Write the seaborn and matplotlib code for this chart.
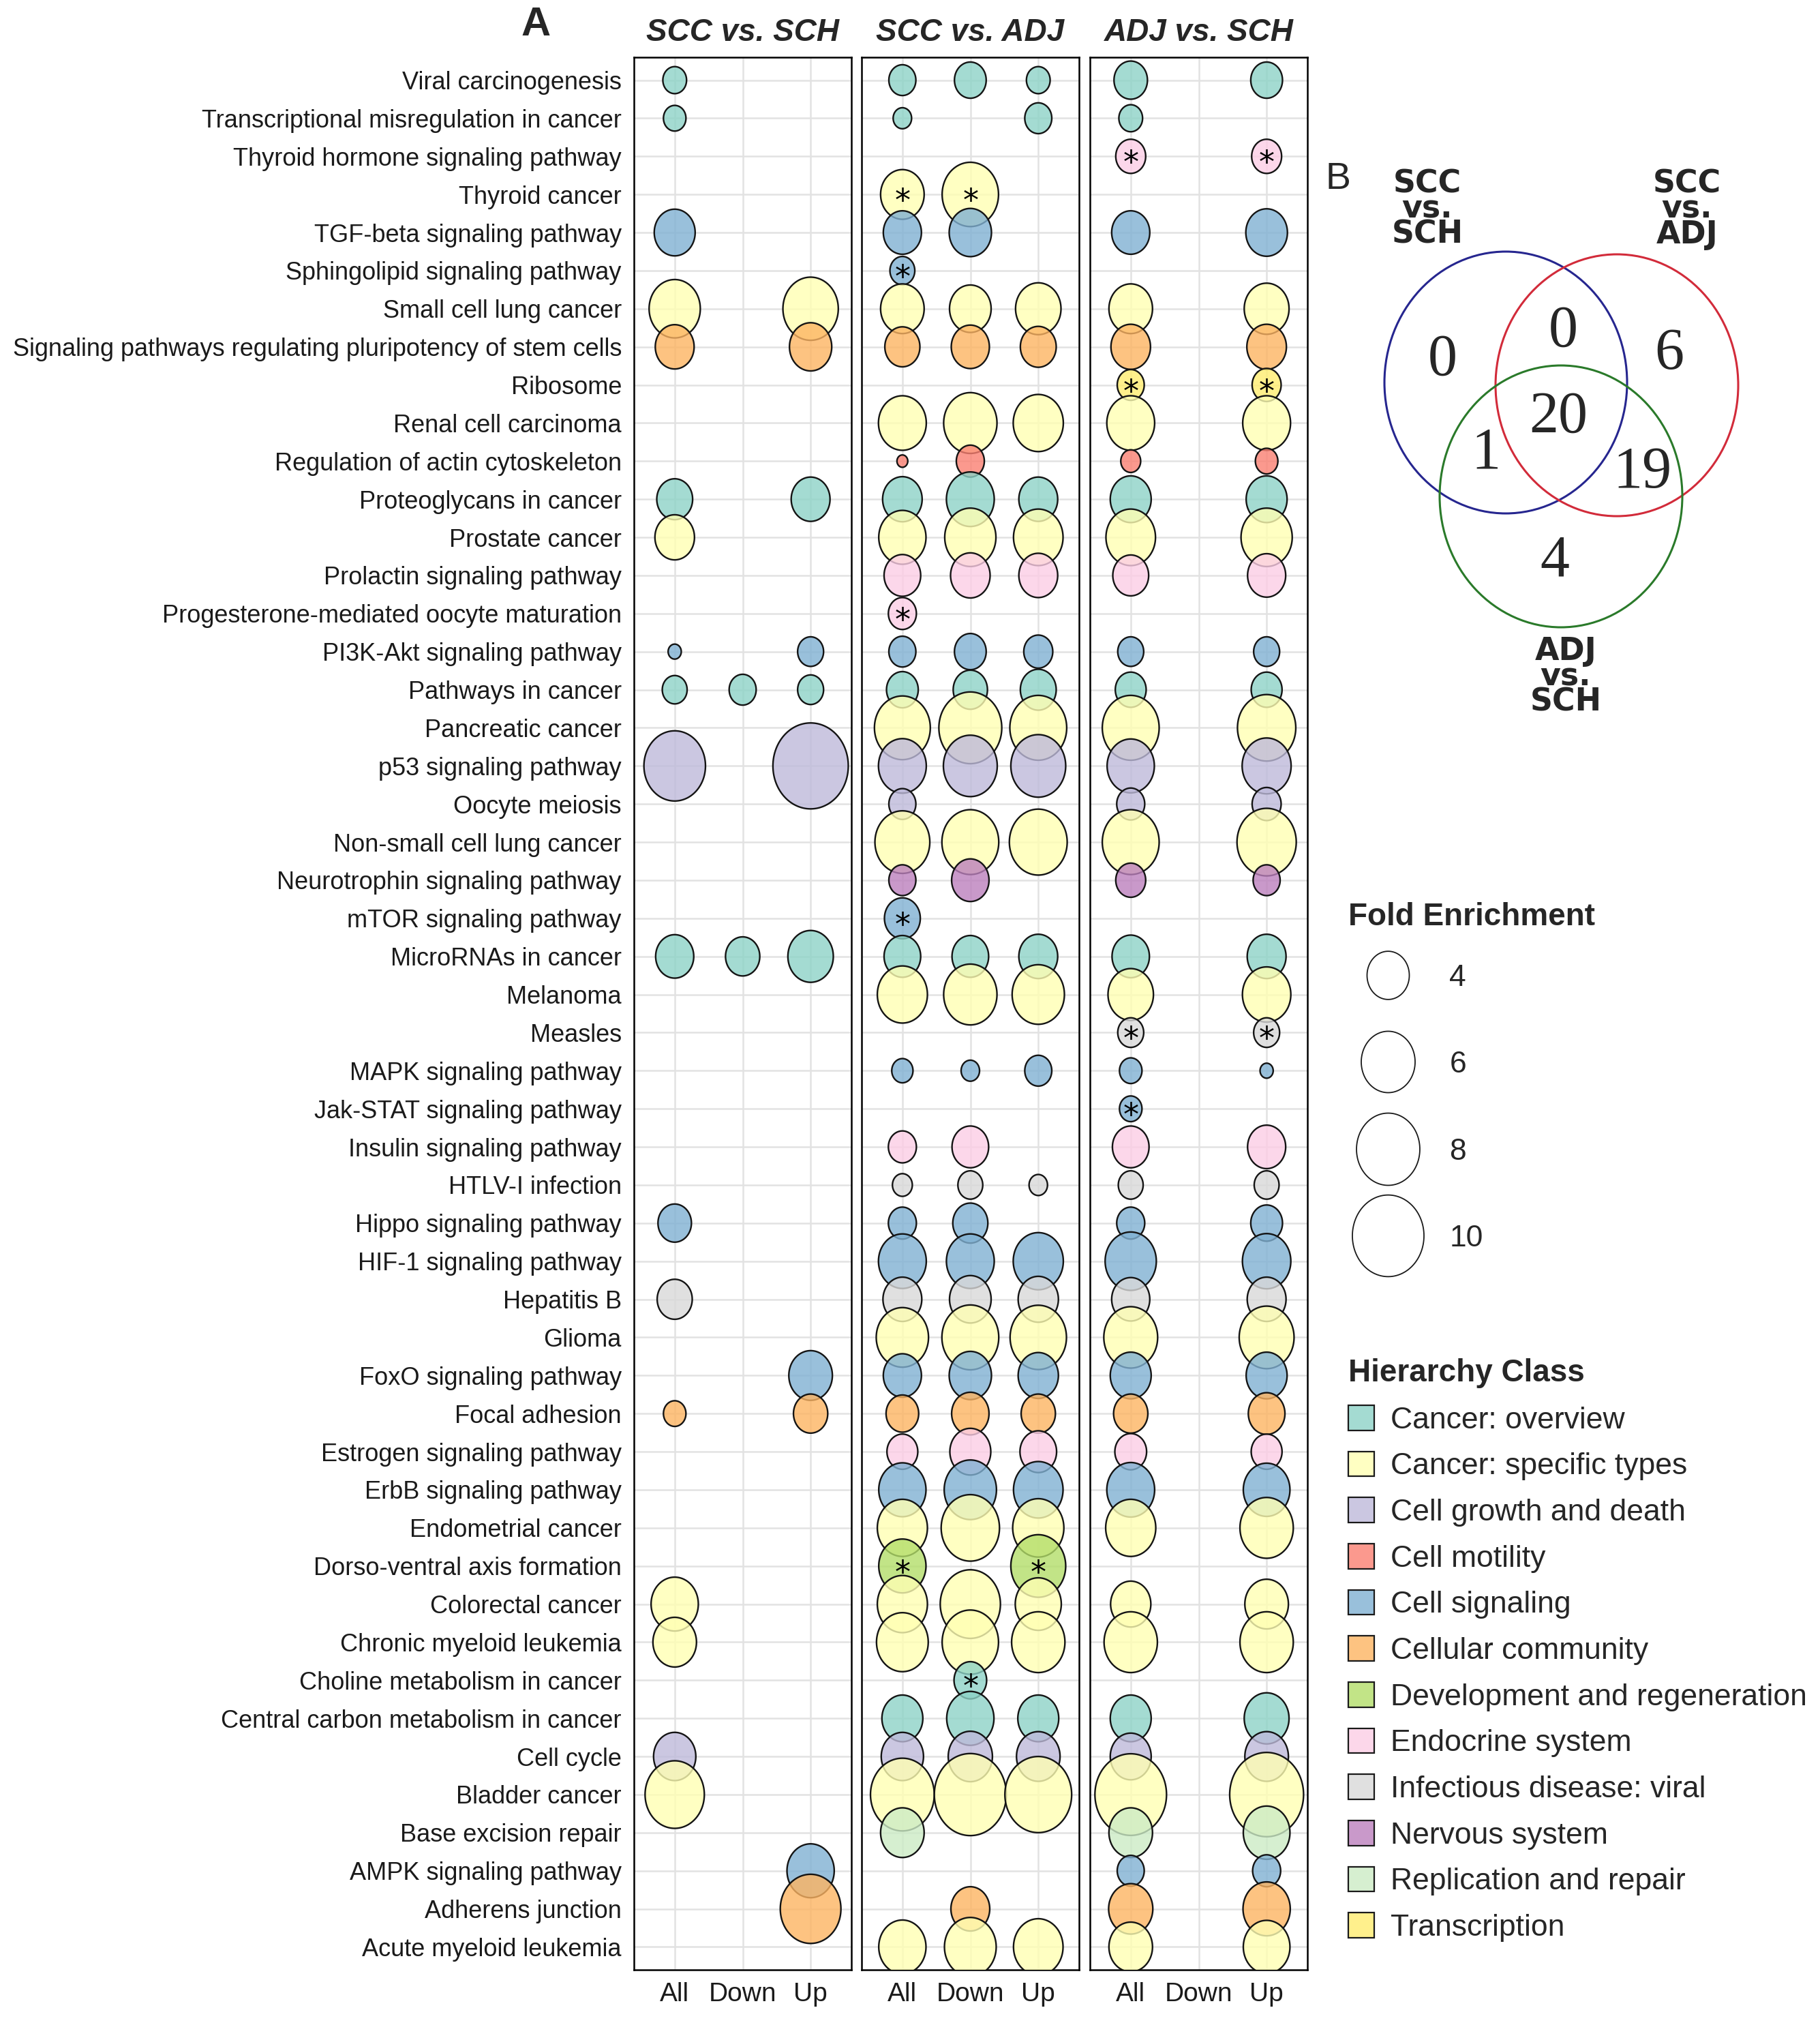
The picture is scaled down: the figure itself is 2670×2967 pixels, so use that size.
import numpy as np
import pandas as pd
import matplotlib
matplotlib.use("Agg")
import matplotlib.pyplot as plt
from matplotlib.path import Path
from matplotlib.patches import Ellipse, Patch
from matplotlib.lines import Line2D
from matplotlib.legend_handler import HandlerLine2D
from matplotlib.colors import to_rgba
import seaborn as sns

N = None

pathways = [
    "Viral carcinogenesis", "Transcriptional misregulation in cancer",
    "Thyroid hormone signaling pathway", "Thyroid cancer",
    "TGF-beta signaling pathway", "Sphingolipid signaling pathway",
    "Small cell lung cancer",
    "Signaling pathways regulating pluripotency of stem cells",
    "Ribosome", "Renal cell carcinoma",
    "Regulation of actin cytoskeleton", "Proteoglycans in cancer",
    "Prostate cancer", "Prolactin signaling pathway",
    "Progesterone-mediated oocyte maturation", "PI3K-Akt signaling pathway",
    "Pathways in cancer", "Pancreatic cancer",
    "p53 signaling pathway", "Oocyte meiosis",
    "Non-small cell lung cancer", "Neurotrophin signaling pathway",
    "mTOR signaling pathway", "MicroRNAs in cancer",
    "Melanoma", "Measles",
    "MAPK signaling pathway", "Jak-STAT signaling pathway",
    "Insulin signaling pathway", "HTLV-I infection",
    "Hippo signaling pathway", "HIF-1 signaling pathway",
    "Hepatitis B", "Glioma",
    "FoxO signaling pathway", "Focal adhesion",
    "Estrogen signaling pathway", "ErbB signaling pathway",
    "Endometrial cancer", "Dorso-ventral axis formation",
    "Colorectal cancer", "Chronic myeloid leukemia",
    "Choline metabolism in cancer", "Central carbon metabolism in cancer",
    "Cell cycle", "Bladder cancer",
    "Base excision repair", "AMPK signaling pathway",
    "Adherens junction", "Acute myeloid leukemia",
]

hier_class = [
    "Cancer: overview", "Cancer: overview", "Endocrine system", "Cancer: specific types",
    "Cell signaling", "Cell signaling", "Cancer: specific types", "Cellular community",
    "Transcription", "Cancer: specific types", "Cell motility", "Cancer: overview",
    "Cancer: specific types", "Endocrine system", "Endocrine system", "Cell signaling",
    "Cancer: overview", "Cancer: specific types", "Cell growth and death", "Cell growth and death",
    "Cancer: specific types", "Nervous system", "Cell signaling", "Cancer: overview",
    "Cancer: specific types", "Infectious disease: viral", "Cell signaling", "Cell signaling",
    "Endocrine system", "Infectious disease: viral", "Cell signaling", "Cell signaling",
    "Infectious disease: viral", "Cancer: specific types", "Cell signaling", "Cellular community",
    "Endocrine system", "Cell signaling", "Cancer: specific types", "Development and regeneration",
    "Cancer: specific types", "Cancer: specific types", "Cancer: overview", "Cancer: overview",
    "Cell growth and death", "Cancer: specific types", "Replication and repair", "Cell signaling",
    "Cellular community", "Cancer: specific types",
]

class_order = [
    "Cancer: overview", "Cancer: specific types", "Cell growth and death",
    "Cell motility", "Cell signaling", "Cellular community",
    "Development and regeneration", "Endocrine system",
    "Infectious disease: viral", "Nervous system",
    "Replication and repair", "Transcription",
]
class_colors = [
    "#8DD3C7", "#FFFFB3", "#BEBADA", "#FB8072", "#80B1D3", "#FDB462",
    "#B3DE69", "#FCCDE5", "#D9D9D9", "#BC80BD", "#CCEBC5", "#FFED6F",
]

directions = ["All", "Down", "Up"]
comparisons = ["SCC vs. SCH", "SCC vs. ADJ", "ADJ vs. SCH"]

# fold enrichment, one entry per pathway (None = not enriched)
scc_sch_all = [1.8, 1.7, N, N, 3.8, N, 5.5, 3.5, N, N,
               N, 3.1, 3.6, N, N, 1.1, 1.9, N, 7.6, N,
               N, N, N, 3.4, N, N, N, N, N, N,
               2.8, N, 3.0, N, N, 1.7, N, N, N, N,
               4.8, 4.2, N, N, 4.0, 7.1, N, N, N, N]
scc_sch_down = [N, N, N, N, N, N, N, N, N, N,
                N, N, N, N, N, N, 2.1, N, N, N,
                N, N, N, 2.9, N, N, N, N, N, N,
                N, N, N, N, N, N, N, N, N, N,
                N, N, N, N, N, N, N, N, N, N]
scc_sch_up = [N, N, N, N, N, N, 6.3, 4.0, N, N,
              N, 3.5, N, N, N, 2.0, 2.0, N, 11.0, N,
              N, N, N, 4.5, N, N, N, N, N, N,
              N, N, N, N, 4.2, 2.9, N, N, N, N,
              N, N, N, N, N, N, N, 4.8, 7.4, N]

scc_adj_all = [2.1, 1.4, N, 4.2, 3.4, 1.9, 4.2, 3.0, N, 4.9,
               1.0, 3.6, 4.8, 3.2, 2.2, 2.1, 2.6, 6.4, 4.9, 2.1,
               6.2, 2.1, 3.1, 3.2, 5.3, N, 1.6, N, 2.2, 1.5,
               2.2, 4.9, 3.5, 5.7, 3.4, 2.7, 2.5, 4.8, 5.3, 4.8,
               5.3, 5.6, N, 3.8, 4.0, 8.1, 4.2, N, N, 4.8]
scc_adj_down = [2.6, N, N, 6.5, 4.0, N, 3.9, 3.4, N, 5.9,
                2.2, 4.9, 5.5, 3.6, N, 2.6, 2.9, 7.9, 6.0, N,
                6.6, 3.3, N, 3.2, 5.9, N, 1.4, N, 3.2, 1.9,
                3.0, 4.9, 3.9, 6.6, 4.0, 3.3, 3.8, 5.7, 6.9, N,
                7.3, 6.5, 2.7, 4.8, 4.3, 10.1, N, N, 3.5, 5.6]
scc_adj_up = [1.8, 2.1, N, N, N, N, 4.5, 3.1, N, 5.3,
              N, 3.5, 5.2, 3.5, N, 2.3, 3.1, 6.6, 6.2, N,
              6.8, N, N, 3.5, 5.7, N, 2.1, N, N, 1.4,
              N, 5.3, 3.7, 6.5, 3.7, 2.9, 3.2, 5.2, 5.5, 6.2,
              4.6, 5.9, N, 3.8, 4.2, 8.8, N, N, N, 5.2]

adj_sch_all = [2.8, 1.8, 2.4, N, 3.4, N, 4.2, 3.6, 2.1, 4.9,
               1.5, 3.8, 5.2, 3.1, N, 2.0, 2.5, 6.6, 4.8, 2.2,
               6.6, 2.4, N, 3.3, 4.5, 2.0, 1.7, 1.7, 3.2, 1.9,
               2.2, 5.5, 3.4, 6.0, 3.8, 2.9, 2.6, 4.9, 5.3, N,
               3.7, 5.9, N, 3.8, 3.8, 10.0, 4.2, 2.1, 4.3, 4.2]
adj_sch_down = []
adj_sch_up = [2.6, N, 2.4, N, 3.9, N, 4.4, 3.6, 2.3, 4.9,
              1.7, 3.8, 5.5, 3.4, N, 2.0, 2.5, 6.9, 5.1, 2.3,
              7.1, 2.1, N, 3.5, 5.0, 2.0, 1.1, N, 3.4, 1.9,
              2.6, 5.0, 3.5, 6.2, 3.8, 3.2, 2.5, 4.7, 5.9, N,
              4.2, 5.9, N, 4.4, 4.2, 10.6, 4.7, 2.2, 4.8, 4.7]

starred = [
    ("ADJ vs. SCH", "All", "Thyroid hormone signaling pathway"),
    ("ADJ vs. SCH", "Up", "Thyroid hormone signaling pathway"),
    ("SCC vs. ADJ", "All", "Thyroid cancer"),
    ("SCC vs. ADJ", "Down", "Thyroid cancer"),
    ("SCC vs. ADJ", "All", "Sphingolipid signaling pathway"),
    ("ADJ vs. SCH", "All", "Ribosome"),
    ("ADJ vs. SCH", "Up", "Ribosome"),
    ("SCC vs. ADJ", "All", "Progesterone-mediated oocyte maturation"),
    ("SCC vs. ADJ", "All", "mTOR signaling pathway"),
    ("ADJ vs. SCH", "All", "Measles"),
    ("ADJ vs. SCH", "Up", "Measles"),
    ("ADJ vs. SCH", "All", "Jak-STAT signaling pathway"),
    ("SCC vs. ADJ", "All", "Dorso-ventral axis formation"),
    ("SCC vs. ADJ", "Up", "Dorso-ventral axis formation"),
    ("SCC vs. ADJ", "Down", "Choline metabolism in cancer"),
]

legend_fe = [4, 6, 8, 10]

venn_sets = ["SCC\nvs.\nSCH", "SCC\nvs.\nADJ", "ADJ\nvs.\nSCH"]
# regions: SCH only, SCH&ADJ, ADJ only, all three, SCH&A/S, ADJ&A/S, A/S only
venn_counts = [0, 0, 6, 20, 1, 19, 4]

fold = {
    ("SCC vs. SCH", "All"): scc_sch_all, ("SCC vs. SCH", "Down"): scc_sch_down,
    ("SCC vs. SCH", "Up"): scc_sch_up,
    ("SCC vs. ADJ", "All"): scc_adj_all, ("SCC vs. ADJ", "Down"): scc_adj_down,
    ("SCC vs. ADJ", "Up"): scc_adj_up,
    ("ADJ vs. SCH", "All"): adj_sch_all, ("ADJ vs. SCH", "Down"): adj_sch_down,
    ("ADJ vs. SCH", "Up"): adj_sch_up,
}

rows = []
for (comp, d), vals in fold.items():
    for p, v in zip(pathways, vals):
        if v is None:
            continue
        rows.append(dict(comparison=comp, direction=d, pathway=p,
                         cls=hier_class[pathways.index(p)], fe=v,
                         star=(comp, d, p) in starred))
df = pd.DataFrame(rows)
df["xpos"] = df["direction"].map({d: i for i, d in enumerate(directions)})
df["ypos"] = df["pathway"].map({p: i for i, p in enumerate(pathways)})
df = df.sort_values(["comparison", "ypos", "xpos"])

FILL_ALPHA = 0.8
palette = {c: to_rgba(col, FILL_ALPHA) for c, col in zip(class_order, class_colors)}

# bubble size: area grows linearly with fold enrichment
FE_LO, FE_HI, S_HI = 0.79, 12.0, 9045
ASPECT = 1.14
t = np.linspace(0, 2 * np.pi, 121)
ell = Path(np.column_stack([np.cos(t) / ASPECT, np.sin(t)]), closed=True)


def fe_to_s(v):
    return S_HI * (v - FE_LO) / (FE_HI - FE_LO)


class CenteredMarker(HandlerLine2D):
    # keep the legend bubble level with the middle of its label
    def create_artists(self, legend, orig_handle, xdescent, ydescent, width, height,
                       fontsize, trans):
        arts = super().create_artists(legend, orig_handle, xdescent, ydescent, width,
                                      height, fontsize, trans)
        for a in arts:
            a.set_ydata(np.full(len(a.get_ydata()), 0.36 * fontsize))
        return arts


sns.set_style("white")
plt.rcParams["font.family"] = ["Liberation Sans", "DejaVu Sans"]

W, H = 2670, 2967
fig = plt.figure(figsize=(W / 100, H / 100), dpi=100)

panel_left = [930, 1264, 1599]
panel_w = 319
top, bottom = 84, 2889
axes = [fig.add_axes([x / W, 1 - bottom / H, panel_w / W, (bottom - top) / H]) for x in panel_left]

for i, (ax, comp) in enumerate(zip(axes, comparisons)):
    sub = df[df["comparison"] == comp]
    ax.grid(True, color="#E2E2E2", lw=1.8, zorder=0)
    ax.set_axisbelow(True)
    sns.scatterplot(data=sub, x="xpos", y="ypos", hue="cls", hue_order=class_order,
                    palette=palette, size="fe", sizes=(0, S_HI), size_norm=(FE_LO, FE_HI),
                    marker=ell, edgecolor="#141414", linewidth=1.7,
                    legend=False, ax=ax, zorder=3)
    st = sub[sub["star"]]
    ax.scatter(st["xpos"], st["ypos"], marker="$*$", s=230, c="black", linewidths=0, zorder=4)

    ax.set_xlim(-0.6, 2.6)
    ax.set_ylim(len(pathways) - 0.4, -0.6)
    ax.set_xticks(range(len(directions)))
    ax.set_xticklabels(directions)
    ax.set_yticks(range(len(pathways)))
    ax.set_yticklabels(pathways if i == 0 else [])
    ax.set_xlabel("")
    ax.set_ylabel("")
    ax.tick_params(length=7, width=1.8, color="black", labelsize=26,
                   labelcolor="#1a1a1a", pad=6)
    ax.tick_params(axis="x", labelsize=28)
    for sp in ax.spines.values():
        sp.set_color("black")
        sp.set_linewidth(1.8)
    ax.set_title(comp, fontsize=33, fontweight="bold", fontstyle="italic", pad=17)

fig.text(786 / W, 1 - 37 / H, "A", ha="center", va="center", fontsize=43, fontweight="bold")
fig.text(1963 / W, 1 - 263 / H, "B", ha="center", va="center", fontsize=40)

# Venn diagram
venn_circles = [((2209, 561), "#26268F"), ((2372, 565), "#D22B3A"), ((2290, 728), "#2A7A2A")]
for (cx, cy), col in venn_circles:
    fig.add_artist(Ellipse((cx / W, 1 - cy / H), width=356 / W, height=384 / H,
                           transform=fig.transFigure, fill=False, edgecolor=col, lw=2.2))
venn_text_pos = [(2116, 529), (2293, 487), (2449, 520), (2286, 613), (2180, 666), (2409, 694), (2281, 824)]
for (x, y), n in zip(venn_text_pos, venn_counts):
    fig.text(x / W, 1 - y / H, str(n), ha="center", va="center", fontsize=62,
             family="Liberation Serif")
venn_label_pos = [(2094, 307), (2475, 307), (2297, 993)]
for (x, y), lab in zip(venn_label_pos, venn_sets):
    fig.text(x / W, 1 - y / H, lab, ha="center", va="center", fontsize=33,
             fontweight="bold", family="DejaVu Sans", linespacing=0.78)

# Fold enrichment legend
size_handles = [Line2D([], [], linestyle="", marker=ell, markersize=np.sqrt(fe_to_s(v)),
                       markerfacecolor="white", markeredgecolor="#1a1a1a", markeredgewidth=1.3)
                for v in legend_fe]
fig.legend(size_handles, [str(v) for v in legend_fe], title="Fold Enrichment",
           loc="upper left", bbox_to_anchor=(1978 / W, 1 - 1323 / H), frameon=False,
           fontsize=32, title_fontproperties={"weight": "bold", "size": 33},
           alignment="left", handlelength=2.6, handleheight=3.78, labelspacing=0.16,
           handletextpad=0.74, borderpad=0, borderaxespad=0,
           handler_map={Line2D: CenteredMarker()})

# Hierarchy class legend
class_handles = [Patch(facecolor=palette[c], edgecolor="#1a1a1a", linewidth=1.6)
                 for c in class_order]
fig.legend(class_handles, class_order, title="Hierarchy Class",
           loc="upper left", bbox_to_anchor=(1978 / W, 1 - 1992 / H), frameon=False,
           fontsize=32, title_fontproperties={"weight": "bold", "size": 33},
           alignment="left", handlelength=0.86, handleheight=0.9, labelspacing=0.56,
           handletextpad=0.54, borderpad=0, borderaxespad=0)

fig.savefig("out.png", dpi=100)
